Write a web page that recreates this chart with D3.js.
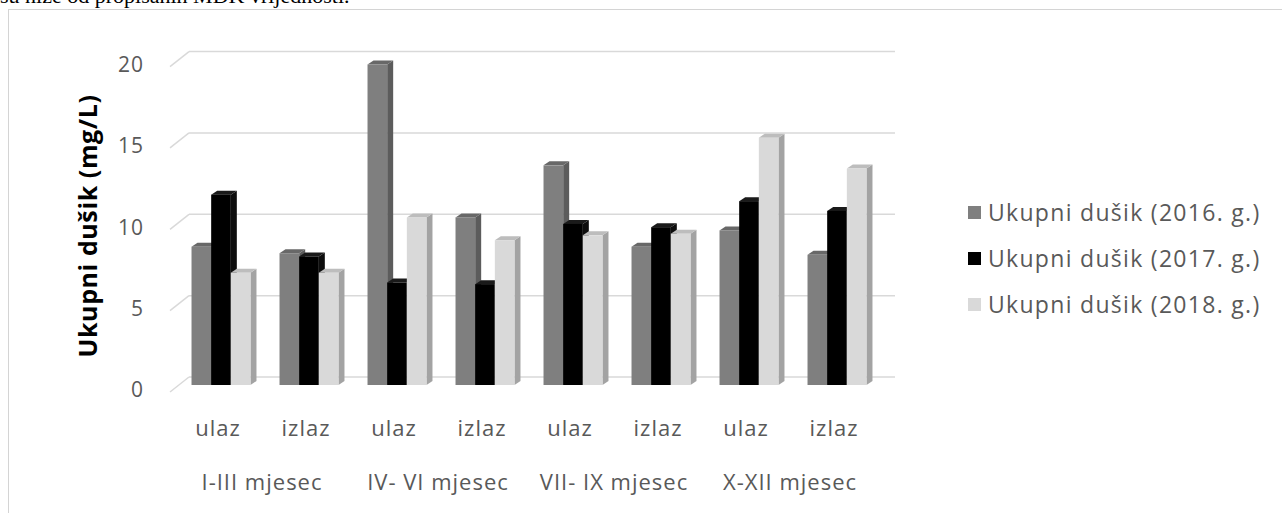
<!DOCTYPE html>
<html>
<head>
<meta charset="utf-8">
<script src="https://cdnjs.cloudflare.com/ajax/libs/d3/7.8.5/d3.min.js"></script>
<style>
  html, body { margin: 0; padding: 0; background: #fff; }
  svg { display: block; }
</style>
</head>
<body>
<svg id="chart" width="1282" height="513"></svg>
<script>
// データ
const categories = ["ulaz", "izlaz", "ulaz", "izlaz", "ulaz", "izlaz", "ulaz", "izlaz"];
const periods = ["I-III mjesec", "IV- VI mjesec", "VII- IX mjesec", "X-XII mjesec"];
const seriesNames = ["Ukupni dušik (2016. g.)", "Ukupni dušik (2017. g.)", "Ukupni dušik (2018. g.)"];
const values2016 = [8.5, 8.1, 19.7, 10.3, 13.5, 8.5, 9.5, 8.0];
const values2017 = [11.7, 7.9, 6.3, 6.2, 9.9, 9.7, 11.3, 10.7];
const values2018 = [6.9, 6.9, 10.3, 8.9, 9.2, 9.3, 15.2, 13.3];
const yTicks = [0, 5, 10, 15, 20];
const yTitle = "Ukupni dušik (mg/L)";
const headText = "su niže od propisanih MDK vrijednosti.";

const allSeries = [values2016, values2017, values2018];

// 色（前面・側面・上面）
const colors = [
  { front: "#7f7f7f", side: "#5c5c5c", top: "#686868", legend: "#7f7f7f" },
  { front: "#000000", side: "#0d0d0d", top: "#1a1a1a", legend: "#000000" },
  { front: "#d9d9d9", side: "#a3a3a3", top: "#bdbdbd", legend: "#d9d9d9" }
];

const svg = d3.select("#chart");
const font = "'Open Sans', Lato, sans-serif";

// 上の切れた本文
svg.append("text")
  .attr("x", 0).attr("y", 3)
  .attr("font-family", "'Liberation Serif', serif")
  .attr("font-size", 22)
  .attr("fill", "#000")
  .text(headText);

// チャート枠
svg.append("rect")
  .attr("x", 8.5).attr("y", 9.5)
  .attr("width", 1300).attr("height", 520)
  .attr("fill", "#fff")
  .attr("stroke", "#d4d4d4");

// スケール
const x = d3.scaleBand().domain(d3.range(categories.length))
  .range([177, 881]).paddingInner(0.33).paddingOuter(0.165);
const xs = d3.scaleBand().domain(d3.range(allSeries.length))
  .range([0, x.bandwidth()]);
const y = d3.scaleLinear().domain([0, 20]).range([385, 385 - 20 * 16.27]);

// 奥行き
const frontDy = 7, backDy = -8;
const wallX0 = 170, wallX1 = 189, wallEnd = 895;
const depth = { dx: 6, dy: -4 };

// グリッド（奥の壁 + 斜め線）
const grid = svg.append("g");
yTicks.forEach(t => {
  grid.append("line")
    .attr("x1", wallX1).attr("x2", wallEnd)
    .attr("y1", y(t) + backDy).attr("y2", y(t) + backDy)
    .attr("stroke", "#d9d9d9").attr("stroke-width", 1.5);
  grid.append("line")
    .attr("x1", wallX0).attr("y1", y(t) + frontDy)
    .attr("x2", wallX1).attr("y2", y(t) + backDy)
    .attr("stroke", "#d9d9d9").attr("stroke-width", 1.5);
});

// Y軸ラベル
svg.append("g").selectAll("text").data(yTicks).enter().append("text")
  .attr("x", 144)
  .attr("y", d => y(d) + frontDy - 2)
  .attr("dy", "0.35em")
  .attr("text-anchor", "end")
  .attr("font-family", font)
  .attr("font-size", 21)
  .attr("letter-spacing", 1)
  .attr("fill", "#595959")
  .text(d => d);

svg.append("text")
  .attr("transform", "translate(97,226) rotate(-90)")
  .attr("text-anchor", "middle")
  .attr("font-family", font)
  .attr("font-weight", "bold")
  .attr("font-size", 25)
  .attr("letter-spacing", 0.6)
  .attr("fill", "#000")
  .text(yTitle);

// 棒（3D風）
const bars = svg.append("g");
categories.forEach((c, i) => {
  allSeries.forEach((vals, s) => {
    const x0 = x(i) + xs(s);
    const w = xs.bandwidth();
    const yt = y(vals[i]);
    const yb = y(0);
    const col = colors[s];
    // 側面
    bars.append("path")
      .attr("d", `M${x0 + w},${yt} L${x0 + w + depth.dx},${yt + depth.dy} L${x0 + w + depth.dx},${yb + depth.dy} L${x0 + w},${yb} Z`)
      .attr("fill", col.side);
    // 上面
    bars.append("path")
      .attr("d", `M${x0},${yt} L${x0 + depth.dx},${yt + depth.dy} L${x0 + w + depth.dx},${yt + depth.dy} L${x0 + w},${yt} Z`)
      .attr("fill", col.top);
    // 前面
    bars.append("rect")
      .attr("x", x0).attr("y", yt)
      .attr("width", w).attr("height", yb - yt)
      .attr("fill", col.front);
  });
});

// カテゴリラベル
svg.append("g").selectAll("text").data(categories).enter().append("text")
  .attr("x", (d, i) => x(i) + x.bandwidth() / 2 - 3)
  .attr("y", 428)
  .attr("dy", "0.35em")
  .attr("text-anchor", "middle")
  .attr("font-family", font)
  .attr("font-size", 22)
  .attr("letter-spacing", 1)
  .attr("fill", "#595959")
  .text(d => d);

svg.append("g").selectAll("text").data(periods).enter().append("text")
  .attr("x", (d, i) => (x(i * 2) + x(i * 2 + 1) + x.bandwidth()) / 2 - 3)
  .attr("y", 482)
  .attr("dy", "0.35em")
  .attr("text-anchor", "middle")
  .attr("font-family", font)
  .attr("font-size", 22)
  .attr("letter-spacing", 1)
  .attr("fill", "#595959")
  .text(d => d);

// 凡例
const legend = svg.append("g");
seriesNames.forEach((name, i) => {
  const ly = 213 + i * 46;
  legend.append("rect")
    .attr("x", 968).attr("y", ly - 7)
    .attr("width", 13).attr("height", 13)
    .attr("fill", colors[i].legend);
  legend.append("text")
    .attr("x", 988).attr("y", ly)
    .attr("dy", "0.35em")
    .attr("font-family", font)
    .attr("font-size", 23)
    .attr("letter-spacing", 1.3)
    .attr("fill", "#595959")
    .text(name);
});
</script>
</body>
</html>
